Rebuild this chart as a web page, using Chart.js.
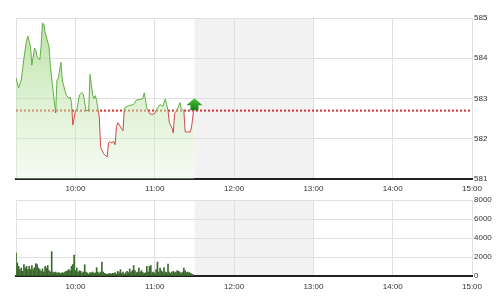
<!DOCTYPE html>
<html lang="en">

<head>
  <meta charset="utf-8">
  <title>Intraday Chart</title>
  <script src="https://cdn.jsdelivr.net/npm/chart.js@4.4.0/dist/chart.umd.min.js"></script>
  <style>
    body { margin: 0; background: #fff; }
    #wrap { position: relative; width: 501px; height: 300px; }
    canvas { position: absolute; left: 0; }
    #priceChart { top: 0; }
    #volChart { top: 185px; }
  </style>
</head>

<body>
  <div id="wrap">
    <canvas id="priceChart" width="501" height="200"></canvas>
    <canvas id="volChart" width="501" height="115"></canvas>
  </div>

  <script>
    // time axis: minutes since midnight (9:15 -> 15:00)
    const sessionStart = 555;
    const sessionEnd = 900;
    const hourTicks = [600, 660, 720, 780, 840, 900];
    const breakStart = 690;   // 11:30
    const breakEnd = 780;     // 13:00

    // price
    const refPrice = 582.7;
    const priceTicks = [581, 582, 583, 584, 585];
    const priceTimes = [555, 557, 559, 561, 563, 564, 566, 567, 569, 570, 571, 573, 574, 575, 576, 577,
      580, 581, 583, 585, 586, 587, 589, 590, 592, 593, 595, 596, 597, 598, 600, 601, 603, 605, 606,
      608, 610, 611, 613, 614, 615, 616, 618, 619, 621, 622, 624, 625, 626, 627, 629, 630, 631, 632,
      634, 636, 637, 640, 644, 646, 649, 651, 652, 653, 654, 656, 658, 660, 662, 664, 666, 668, 670,
      671, 673, 674, 675, 677, 679, 680, 682, 683, 685, 687, 688, 690];
    const prices = [583.51, 583.26, 583.46, 584.0, 584.45, 584.55, 584.28, 583.83, 584.25, 584.2, 584.03,
      583.96, 584.3, 584.87, 584.85, 584.65, 584.28, 583.8, 583.2, 582.64, 583.46, 583.5, 583.9, 583.46,
      583.2, 583.09, 583.0, 583.04, 582.9, 582.34, 582.7, 582.72, 583.09, 583.15, 583.09, 582.7, 582.7,
      583.6, 583.09, 583.0, 583.07, 582.95, 582.54, 581.8, 581.64, 581.6, 581.55, 581.9, 581.93, 581.9,
      581.93, 581.85, 582.3, 582.4, 582.3, 582.2, 582.76, 582.82, 582.85, 582.96, 582.98, 583.0, 583.14,
      582.96, 582.76, 582.63, 582.6, 582.63, 582.76, 582.85, 582.8, 582.99, 582.7, 582.4, 582.27, 582.14,
      582.63, 582.72, 582.9, 582.76, 582.7, 582.17, 582.17, 582.17, 582.34, 582.88];

    // volume, one bar per minute from volStart
    const volStart = 555;
    const volTicks = [0, 2000, 4000, 6000, 8000];
    const volumes = [2420, 1370, 1020, 670, 840, 490, 1190, 840, 1020, 670, 1020, 670, 1100, 670, 880,
      1300, 1190, 840, 670, 490, 750, 420, 1020, 840, 1100, 560, 420, 2560, 420, 350, 420, 320, 350, 320,
      280, 350, 320, 420, 490, 560, 670, 560, 1020, 1190, 2210, 560, 840, 420, 560, 490, 320, 420, 1190,
      420, 320, 210, 350, 320, 420, 320, 320, 880, 420, 280, 420, 1470, 420, 280, 210, 210, 210, 280, 210,
      280, 280, 350, 210, 490, 350, 670, 280, 420, 210, 350, 490, 350, 750, 420, 560, 1100, 560, 350, 420,
      840, 420, 560, 350, 280, 350, 1020, 420, 1020, 1100, 350, 420, 280, 670, 1470, 420, 840, 560, 420,
      880, 420, 350, 1260, 420, 280, 420, 490, 350, 420, 560, 490, 420, 280, 420, 840, 560, 350, 420, 350,
      280, 210, 140];

    const fontSpec = { family: 'Arial, "Liberation Sans", sans-serif', size: 8 };
    const labelColor = '#333';
    const gridColor = '#e0e0e0';

    function timeLabel(v) {
      if (v === sessionStart) return '';
      return Math.floor(v / 60) + ':' + String(v % 60).padStart(2, '0');
    }

    // gray lunch-break band behind everything
    const breakBand = {
      id: 'breakBand',
      beforeDraw(chart) {
        const { ctx, chartArea, scales } = chart;
        const x0 = scales.x.getPixelForValue(breakStart);
        const x1 = scales.x.getPixelForValue(breakEnd);
        ctx.save();
        ctx.fillStyle = '#f2f2f2';
        ctx.fillRect(x0, chartArea.top, x1 - x0, chartArea.bottom - chartArea.top);
        ctx.restore();
      }
    };

    // green arrow on the last price
    const lastArrow = {
      id: 'lastArrow',
      afterDatasetsDraw(chart) {
        const meta = chart.getDatasetMeta(0);
        const pt = meta.data[meta.data.length - 1];
        if (!pt) return;
        const ctx = chart.ctx;
        const x = pt.x, y = pt.y;
        ctx.save();
        const g = ctx.createLinearGradient(0, y - 5, 0, y + 8);
        g.addColorStop(0, '#4cc23c');
        g.addColorStop(1, '#137a0e');
        ctx.fillStyle = g;
        ctx.beginPath();
        ctx.moveTo(x, y - 5);
        ctx.lineTo(x + 8, y + 2);
        ctx.lineTo(x + 4, y + 2);
        ctx.lineTo(x + 4, y + 7);
        ctx.lineTo(x - 4, y + 7);
        ctx.lineTo(x - 4, y + 2);
        ctx.lineTo(x - 8, y + 2);
        ctx.closePath();
        ctx.fill();
        ctx.restore();
      }
    };

    function xScale(pad) {
      return {
        type: 'linear',
        min: sessionStart,
        max: sessionEnd,
        offset: false,
        afterBuildTicks: s => { s.ticks = [sessionStart].concat(hourTicks).map(v => ({ value: v })); },
        afterFit: s => { s.height = pad.h; },
        grid: { color: gridColor, drawTicks: false, offset: false },
        border: { color: '#222', width: 2 },
        ticks: {
          padding: pad.p,
          autoSkip: false,
          maxRotation: 0,
          color: labelColor,
          font: fontSpec,
          callback: v => timeLabel(v)
        }
      };
    }

    function yScale(lo, hi, list) {
      return {
        position: 'right',
        min: lo,
        max: hi,
        afterBuildTicks: s => { s.ticks = list.map(v => ({ value: v })); },
        afterFit: s => { s.width = 29; },
        grid: { color: gridColor, drawTicks: false },
        border: { display: false },
        ticks: { padding: 2, color: labelColor, font: fontSpec, callback: v => String(v) }
      };
    }

    const priceData = priceTimes.map((t, i) => ({ x: t, y: prices[i] }));

    function lineColor(context) {
      const { chart } = context;
      const { chartArea, scales } = chart;
      if (!chartArea) return '#5fae45';
      const yRef = scales.y.getPixelForValue(refPrice);
      const frac = Math.min(Math.max((yRef - chartArea.top) / (chartArea.bottom - chartArea.top), 0), 1);
      const g = chart.ctx.createLinearGradient(0, chartArea.top, 0, chartArea.bottom);
      g.addColorStop(0, '#5fae45');
      g.addColorStop(frac, '#5fae45');
      g.addColorStop(frac, '#d24a4a');
      g.addColorStop(1, '#d24a4a');
      return g;
    }

    function areaColor(context) {
      const { chart } = context;
      const { chartArea } = chart;
      if (!chartArea) return 'rgba(180,225,160,0.5)';
      const g = chart.ctx.createLinearGradient(0, chartArea.top, 0, chartArea.bottom);
      g.addColorStop(0, 'rgba(160,215,130,0.75)');
      g.addColorStop(1, 'rgba(225,243,215,0.35)');
      return g;
    }

    const priceConfig = {
      type: 'line',
      data: {
        datasets: [{
          data: priceData,
          borderColor: lineColor,
          backgroundColor: areaColor,
          borderWidth: 1,
          fill: 'start',
          pointRadius: 0,
          tension: 0
        },
        {
          data: [{ x: sessionStart, y: refPrice }, { x: sessionEnd, y: refPrice }],
          borderColor: '#e02b2b',
          borderWidth: 2,
          borderDash: [2, 2],
          pointRadius: 0,
          fill: false
        }]
      },
      options: {
        responsive: false,
        animation: false,
        layout: { padding: { left: 16, top: 18, right: 0, bottom: 0 } },
        plugins: { legend: { display: false }, tooltip: { enabled: false } },
        scales: {
          x: xScale({ h: 21, p: 5 }),
          y: yScale(581, 585, priceTicks)
        }
      },
      plugins: [breakBand, lastArrow]
    };

    const volConfig = {
      type: 'bar',
      data: {
        datasets: [{
          data: volumes.map((v, i) => ({ x: volStart + i, y: v })),
          backgroundColor: '#3b6b2c',
          borderWidth: 0,
          barThickness: 1
        }]
      },
      options: {
        responsive: false,
        animation: false,
        layout: { padding: { left: 16, top: 15, right: 0, bottom: 0 } },
        plugins: { legend: { display: false }, tooltip: { enabled: false } },
        scales: {
          x: xScale({ h: 24, p: 6 }),
          y: yScale(0, 8000, volTicks)
        }
      },
      plugins: [breakBand]
    };

    new Chart(document.getElementById('priceChart'), priceConfig);
    new Chart(document.getElementById('volChart'), volConfig);
  </script>

</body>

</html>
